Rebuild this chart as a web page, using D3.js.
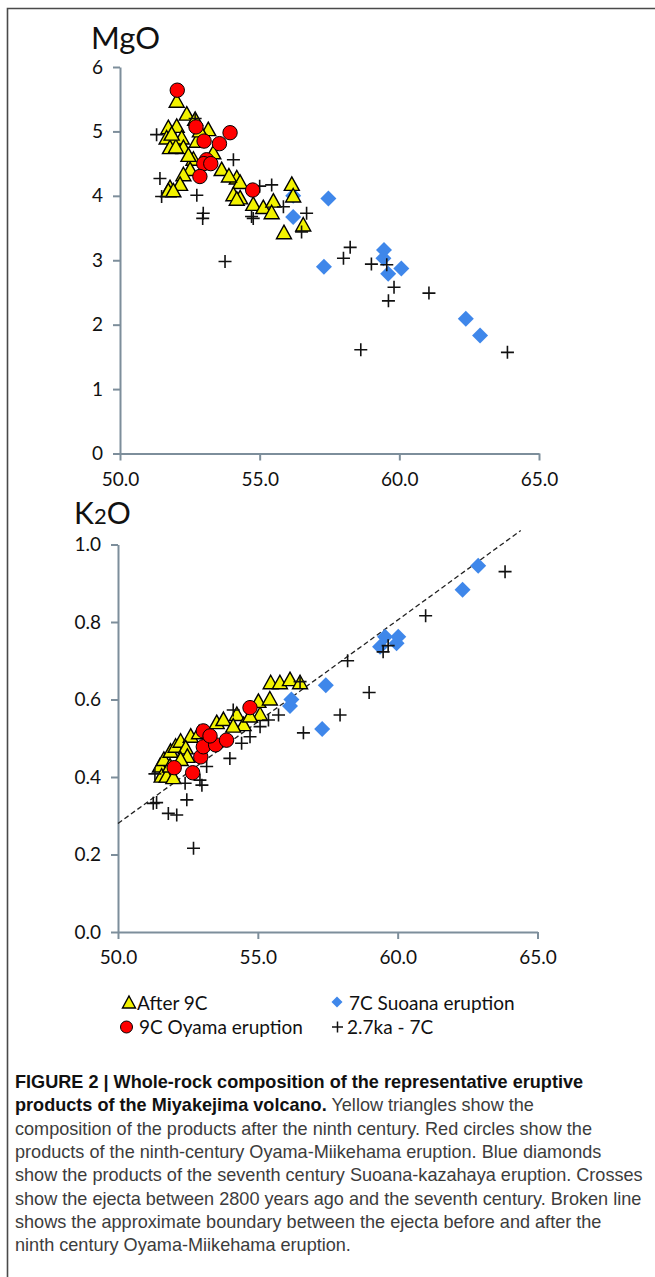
<!DOCTYPE html>
<html><head><meta charset="utf-8">
<script src="https://cdn.jsdelivr.net/npm/d3@7"></script>
<style>
body{margin:0;background:#fff;}
svg{display:block;}
</style></head>
<body>
<svg id="fig" width="655" height="1277"></svg>
<script>
// ---------- DATA (SiO2 wt%, oxide wt%) ----------
const xTicks = [50, 55, 60, 65];
const mgoTicks = [0, 1, 2, 3, 4, 5, 6];
const k2oTicks = [0, 0.2, 0.4, 0.6, 0.8, 1.0];

const mgoAfter9C = [[52.03,5.46],[52.39,5.26],[52.69,5.18],[51.73,5.05],[52.03,5.07],[51.67,4.89],[51.91,4.82],[52.21,4.89],[51.79,4.74],[52.27,4.74],[52.75,4.84],[53.16,5.02],[52.86,5.0],[52.63,4.56],[52.51,4.40],[52.27,4.32],[52.15,4.17],[51.79,4.12],[51.73,4.07],[51.91,4.07],[53.64,4.40],[54.18,4.27],[54.30,4.20],[54.06,4.01],[54.30,3.96],[54.18,3.94],[54.77,3.86],[55.13,3.81],[55.49,3.91],[55.43,3.73],[56.15,4.17],[56.20,3.99],[55.87,3.42],[56.56,3.54],[53.34,4.66],[52.45,4.62],[53.9,4.30],[52.0,4.75],[51.85,4.95]];
const mgoOyama = [[52.05,5.64],[52.72,5.07],[53.94,4.98],[53.01,4.85],[53.56,4.81],[53.1,4.56],[53.0,4.50],[53.25,4.50],[52.86,4.30],[54.75,4.09]];
const mgoSuoana = [[56.2,4.0],[57.46,3.96],[56.2,3.67],[57.3,2.90],[59.45,3.16],[59.43,3.03],[59.6,2.79],[60.07,2.87],[62.38,2.09],[62.89,1.83]];
const mgoOlder = [[51.31,4.95],[51.43,4.27],[51.49,3.99],[52.75,4.01],[52.98,3.73],[52.96,3.65],[54.06,4.56],[55.43,4.17],[54.77,3.65],[54.71,3.68],[56.68,3.73],[56.5,3.44],[55.85,3.83],[58.24,3.20],[58.0,3.03],[59.0,2.94],[59.55,2.93],[59.81,2.58],[59.61,2.37],[61.06,2.49],[58.62,1.61],[63.87,1.57],[53.76,2.98],[52.69,5.20],[55.0,4.15]];

const k2oAfter9C = [[51.5,0.427],[51.56,0.401],[51.74,0.401],[51.98,0.397],[51.64,0.444],[51.88,0.465],[52.06,0.478],[52.24,0.491],[52.6,0.504],[52.42,0.474],[52.48,0.452],[52.9,0.513],[51.86,0.427],[53.53,0.539],[53.77,0.547],[54.25,0.56],[54.49,0.534],[54.12,0.53],[55.08,0.56],[55.02,0.594],[55.43,0.60],[55.46,0.642],[55.79,0.642],[56.15,0.65],[56.51,0.642],[54.72,0.556],[53.17,0.487],[52.24,0.444]];
const k2oOyama = [[52.01,0.424],[52.67,0.411],[52.96,0.452],[53.05,0.478],[53.49,0.483],[53.88,0.495],[53.05,0.519],[53.29,0.506],[54.72,0.579]];
const k2oSuoana = [[56.15,0.583],[56.2,0.60],[57.3,0.524],[57.43,0.637],[59.37,0.736],[59.55,0.762],[59.96,0.745],[60.02,0.762],[62.32,0.883],[62.88,0.945]];
const k2oOlder = [[63.84,0.93],[61.0,0.816],[59.66,0.739],[59.48,0.723],[58.21,0.70],[58.98,0.618],[57.94,0.56],[56.63,0.514],[51.32,0.408],[51.38,0.334],[51.26,0.332],[51.8,0.306],[52.1,0.302],[52.46,0.341],[52.7,0.216],[53.0,0.379],[52.93,0.392],[54.0,0.448],[54.42,0.487],[54.72,0.504],[55.08,0.53],[55.38,0.547],[55.74,0.56],[56.51,0.646],[54.12,0.573],[52.4,0.384],[53.17,0.427]];
const boundary = [[50, 0.28],[64.4, 1.036]];

const legendLabels = ["After 9C", "7C Suoana eruption", "9C Oyama eruption", "2.7ka - 7C"];
const captionBold1 = "FIGURE 2 | Whole-rock composition of the representative eruptive";
const captionBold2 = "products of the Miyakejima volcano.";
const captionLines = [
  " Yellow triangles show the",
  "composition of the products after the ninth century. Red circles show the",
  "products of the ninth-century Oyama-Miikehama eruption. Blue diamonds",
  "show the products of the seventh century Suoana-kazahaya eruption. Crosses",
  "show the ejecta between 2800 years ago and the seventh century. Broken line",
  "shows the approximate boundary between the ejecta before and after the",
  "ninth century Oyama-Miikehama eruption."
];

// ---------- STYLE ----------
const AXIS = "#7d8e9b";
const YEL = "#f2f200", RED = "#ff0000", BLUE = "#3f87ea";
const FONT = "Lato, 'Open Sans', sans-serif";
const triPath = "M0,-8 L7.5,5.5 L-7.5,5.5 Z";
const diaPath = "M0,-8 L8,0 L0,8 L-8,0 Z";
const crossPath = "M-6.5,0 H6.5 M0,-6.5 V6.5";

const svg = d3.select("#fig");

// frame
svg.append("path").attr("d","M655,8.5 H7.5 V1277").attr("fill","none").attr("stroke","#4a4a4a").attr("stroke-width",1.6);

function panel(cfg){
  const x = d3.scaleLinear().domain([50,65]).range([cfg.x0, cfg.x1]);
  const y = d3.scaleLinear().domain(cfg.ydom).range([cfg.y0, cfg.y1]);
  const g = svg.append("g");

  const ax = g.append("g").attr("transform",`translate(0,${cfg.y0})`)
    .call(d3.axisBottom(x).tickValues(xTicks).tickFormat(d3.format(".1f")).tickSize(7).tickSizeOuter(0).tickPadding(12));
  const ay = g.append("g").attr("transform",`translate(${cfg.x0},0)`)
    .call(d3.axisLeft(y).tickValues(cfg.yticks).tickFormat(cfg.yfmt).tickSize(7).tickSizeOuter(0).tickPadding(10));
  [ax, ay].forEach(a => {
    a.select(".domain").attr("stroke", AXIS).attr("stroke-width", 2);
    a.selectAll(".tick line").attr("stroke", AXIS).attr("stroke-width", 2);
    a.selectAll(".tick text").attr("fill","#111").attr("font-family",FONT).attr("font-size",19);
  });

  if (cfg.line) {
    g.append("line")
      .attr("x1", x(cfg.line[0][0])).attr("y1", y(cfg.line[0][1]))
      .attr("x2", x(cfg.line[1][0])).attr("y2", y(cfg.line[1][1]))
      .attr("stroke","#222").attr("stroke-width",1.3).attr("stroke-dasharray","5,3");
  }

  g.append("g").selectAll("path").data(cfg.dia).join("path")
    .attr("d", diaPath).attr("transform", d=>`translate(${x(d[0])},${y(d[1])})`).attr("fill", BLUE);
  g.append("g").selectAll("path").data(cfg.tri).join("path")
    .attr("d", triPath).attr("transform", d=>`translate(${x(d[0])},${y(d[1])})`)
    .attr("fill", YEL).attr("stroke","#000").attr("stroke-width",1.4).attr("stroke-linejoin","miter");
  g.append("g").selectAll("path").data(cfg.cross).join("path")
    .attr("d", crossPath).attr("transform", d=>`translate(${x(d[0])},${y(d[1])})`)
    .attr("stroke","#111").attr("stroke-width",1.6).attr("fill","none");
  g.append("g").selectAll("circle").data(cfg.circ).join("circle")
    .attr("cx", d=>x(d[0])).attr("cy", d=>y(d[1])).attr("r", 7.2)
    .attr("fill", RED).attr("stroke","#000").attr("stroke-width",1);
  return {x,y};
}

panel({x0:120, x1:539, y0:453.5, y1:67, ydom:[0,6], yticks:mgoTicks, yfmt:d3.format("d"),
  tri:mgoAfter9C, circ:mgoOyama, dia:mgoSuoana, cross:mgoOlder});
panel({x0:118, x1:537.5, y0:932, y1:544.5, ydom:[0,1], yticks:k2oTicks, yfmt:d3.format(".1f"),
  tri:k2oAfter9C, circ:k2oOyama, dia:k2oSuoana, cross:k2oOlder, line:boundary});

// titles
svg.append("text").attr("x",91).attr("y",48.5).attr("font-family",FONT).attr("font-size",31).attr("fill","#111").text("MgO");
const kt = svg.append("text").attr("x",74).attr("y",524).attr("font-family",FONT).attr("font-size",30).attr("fill","#111");
kt.append("tspan").text("K");
kt.append("tspan").attr("font-size",22).text("2");
kt.append("tspan").text("O");

// legend
const lg = svg.append("g").attr("font-family",FONT).attr("font-size",19).attr("fill","#111");
lg.append("path").attr("d","M0,-7 L6.5,5 L-6.5,5 Z").attr("transform","translate(129,1003)")
  .attr("fill",YEL).attr("stroke","#000").attr("stroke-width",1.4);
lg.append("text").attr("x",137).attr("y",1009.5).text(legendLabels[0]);
lg.append("path").attr("d","M0,-5.5 L5.5,0 L0,5.5 L-5.5,0 Z").attr("transform","translate(337,1002)").attr("fill",BLUE);
lg.append("text").attr("x",349).attr("y",1009.5).text(legendLabels[1]);
lg.append("circle").attr("cx",126.5).attr("cy",1027).attr("r",6).attr("fill",RED).attr("stroke","#000").attr("stroke-width",1);
lg.append("text").attr("x",139).attr("y",1034).text(legendLabels[2]);
lg.append("path").attr("d","M-5.5,0 H5.5 M0,-5.5 V5.5").attr("transform","translate(337.5,1027)").attr("stroke","#111").attr("stroke-width",1.5);
lg.append("text").attr("x",347).attr("y",1034).text(legendLabels[3]);

// caption
const CF = "'Liberation Sans', Arial, sans-serif";
const CS = 18.1;
const base0 = 1088, lh = 23.35;
svg.append("text").attr("x",15).attr("y",base0).attr("font-family",CF).attr("font-size",CS)
  .attr("font-weight","bold").attr("fill","#111").text(captionBold1);
const l2 = svg.append("text").attr("x",15).attr("y",base0+lh).attr("font-family",CF).attr("font-size",CS);
l2.append("tspan").attr("font-weight","bold").attr("fill","#111").text(captionBold2);
l2.append("tspan").attr("fill","#3c3c3c").text(captionLines[0]);
for (let i=1;i<captionLines.length;i++){
  svg.append("text").attr("x",15).attr("y",base0+lh*(i+1)).attr("font-family",CF).attr("font-size",CS)
    .attr("fill","#3c3c3c").text(captionLines[i]);
}
</script>
</body></html>
